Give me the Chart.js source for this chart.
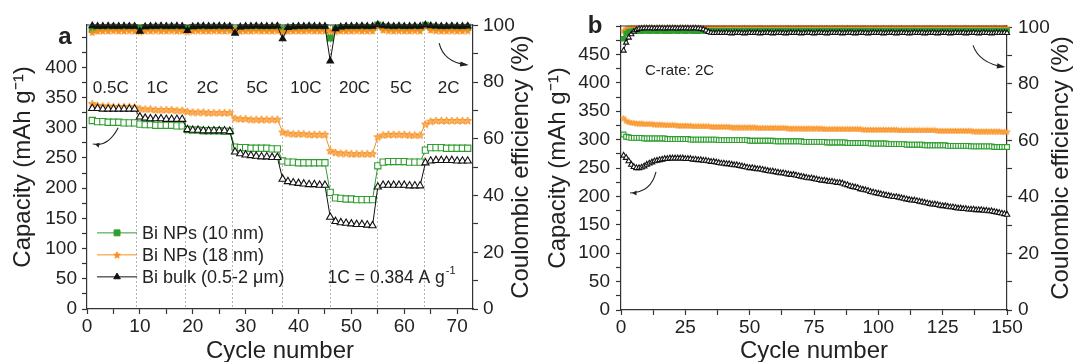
<!DOCTYPE html>
<html lang="en">
<head>
<meta charset="UTF-8">
<title>Bi anodes: rate capability and cycling at 2C</title>
<style>
  body { margin: 0; background: #fff; }
  #wrap { position: relative; width: 1075px; height: 362px; }
  canvas { position: absolute; top: 0; }
  #rateChart { left: 0; }
  #cycleChart { left: 537px; }
</style>
</head>
<body>
<div id="wrap">
  <canvas id="rateChart" width="537" height="362"></canvas>
  <canvas id="cycleChart" width="538" height="362"></canvas>
</div>

<script src="https://cdn.jsdelivr.net/npm/chart.js"></script>
<script>
// ---------- data, panel a (rate test, 9 cycles per rate) ----------
const seriesNames = ['Bi NPs (10 nm)', 'Bi NPs (18 nm)', 'Bi bulk (0.5-2 μm)'];
const rateNames = ['0.5C', '1C', '2C', '5C', '10C', '20C', '5C', '2C'];
const rateLabelCycles = [4.5, 13.3, 22.8, 32.2, 41.4, 50.6, 59.4, 68.4];
const rateBreaks = [9.2, 18.6, 27.5, 36.8, 45.9, 54.9, 63.8];

const capA_10nm = [
  312, 310, 310, 309, 309, 309, 308, 308, 308,
  306, 305, 305, 304, 304, 304, 304, 303, 303,
  297, 296, 296, 295, 295, 295, 295, 294, 294,
  268, 267, 267, 266, 266, 266, 266, 265, 265,
  245, 243, 243, 242, 242, 242, 242, 242, 242,
  193, 184, 183, 182, 182, 181, 181, 181, 181,
  237, 243, 244, 244, 244, 244, 243, 243, 243,
  263, 267, 267, 267, 266, 266, 266, 266, 266];
const capA_18nm = [
  340, 337, 336, 336, 335, 335, 335, 335, 334,
  332, 331, 331, 330, 330, 330, 330, 329, 329,
  327, 326, 326, 326, 325, 325, 325, 325, 325,
  316, 315, 315, 314, 314, 314, 314, 314, 314,
  293, 291, 290, 290, 290, 289, 289, 289, 289,
  262, 259, 258, 258, 257, 257, 257, 257, 257,
  285, 288, 289, 289, 289, 289, 288, 288, 288,
  306, 311, 312, 312, 312, 312, 312, 312, 312];
const capA_bulk = [
  332, 332, 331, 331, 331, 331, 331, 331, 331,
  318, 316, 315, 315, 315, 314, 314, 314, 314,
  297, 296, 296, 295, 295, 295, 295, 295, 294,
  260, 257, 255, 254, 253, 252, 252, 251, 251,
  215, 211, 209, 208, 207, 206, 206, 205, 205,
  152, 145, 143, 142, 141, 140, 140, 139, 138,
  202, 205, 205, 205, 205, 205, 204, 204, 204,
  242, 245, 246, 246, 246, 246, 245, 245, 245];

const ceA_10nm = [
  98.6, 99.2, 99.3, 99.3, 99.4, 99.3, 99.3, 99.4, 99.3,
  99.0, 99.3, 99.3, 99.4, 99.3, 99.3, 99.4, 99.3, 99.3,
  99.0, 99.3, 99.4, 99.3, 99.3, 99.4, 99.3, 99.3, 99.4,
  98.4, 99.2, 99.3, 99.3, 99.4, 99.3, 99.3, 99.3, 99.4,
  98.5, 99.1, 99.3, 99.3, 99.3, 99.4, 99.3, 99.3, 99.3,
  95.6, 98.8, 99.2, 99.3, 99.3, 99.3, 99.4, 99.3, 99.3,
  100.2, 99.5, 99.4, 99.3, 99.4, 99.3, 99.3, 99.4, 99.3,
  100.1, 99.5, 99.4, 99.3, 99.3, 99.4, 99.3, 99.3, 99.4];
const ceA_18nm = [
  97.6, 98.0, 98.1, 98.1, 98.2, 98.1, 98.1, 98.2, 98.1,
  97.9, 98.1, 98.1, 98.2, 98.1, 98.1, 98.2, 98.1, 98.1,
  97.9, 98.1, 98.2, 98.1, 98.1, 98.2, 98.1, 98.1, 98.2,
  98.6, 98.0, 98.1, 98.1, 98.2, 98.1, 98.1, 98.1, 98.2,
  97.8, 98.0, 98.1, 98.1, 98.1, 98.2, 98.1, 98.1, 98.1,
  98.2, 97.9, 98.1, 98.1, 98.1, 98.2, 98.1, 98.1, 98.1,
  99.8, 98.4, 98.2, 98.1, 98.2, 98.1, 98.1, 98.2, 98.1,
  99.7, 98.4, 98.2, 98.1, 98.1, 98.2, 98.1, 98.1, 98.2];
const ceA_bulk = [
  99.9, 99.7, 99.7, 99.8, 99.7, 99.7, 99.8, 99.7, 99.7,
  98.0, 99.6, 99.7, 99.7, 99.8, 99.7, 99.7, 99.8, 99.7,
  98.2, 99.6, 99.7, 99.8, 99.7, 99.7, 99.8, 99.7, 99.7,
  97.3, 99.5, 99.7, 99.7, 99.8, 99.7, 99.7, 99.7, 99.8,
  95.3, 99.3, 99.6, 99.7, 99.7, 99.8, 99.7, 99.7, 99.7,
  87.5, 98.9, 99.5, 99.7, 99.7, 99.7, 99.8, 99.7, 99.7,
  100.3, 99.9, 99.8, 99.7, 99.8, 99.7, 99.7, 99.8, 99.7,
  100.2, 99.9, 99.8, 99.7, 99.7, 99.8, 99.7, 99.7, 99.8];

// ---------- data, panel b (150 cycles at 2C) ----------
const capB_10nm = [
  309, 305, 304, 303, 303, 303, 303, 303, 302, 302,
  302, 302, 302, 302, 302, 302, 302, 301, 301, 301,
  301, 301, 301, 301, 301, 301, 300, 300, 300, 300,
  300, 300, 300, 300, 300, 300, 300, 299, 299, 299,
  299, 299, 299, 299, 299, 299, 299, 299, 299, 298,
  298, 298, 298, 298, 298, 298, 298, 298, 298, 297,
  297, 297, 297, 297, 297, 297, 297, 297, 297, 297,
  296, 296, 296, 296, 296, 296, 296, 296, 296, 295,
  295, 295, 295, 295, 295, 295, 295, 294, 294, 294,
  294, 294, 294, 294, 294, 294, 293, 293, 293, 293,
  293, 293, 293, 292, 292, 292, 292, 292, 292, 292,
  291, 291, 291, 291, 291, 291, 291, 290, 290, 290,
  290, 290, 290, 290, 290, 290, 289, 289, 289, 289,
  289, 289, 289, 289, 289, 288, 288, 288, 288, 288,
  288, 288, 288, 288, 287, 287, 287, 287, 287, 287];
const capB_18nm = [
  338, 333, 331, 330, 330, 329, 329, 329, 328, 328,
  328, 328, 327, 327, 327, 327, 326, 326, 326, 326,
  326, 325, 325, 325, 325, 325, 325, 324, 324, 324,
  324, 324, 324, 324, 323, 323, 323, 323, 323, 323,
  323, 323, 322, 322, 322, 322, 322, 322, 322, 322,
  322, 322, 321, 321, 321, 321, 321, 321, 321, 321,
  321, 321, 321, 321, 320, 320, 320, 320, 320, 320,
  320, 320, 320, 320, 320, 320, 320, 320, 319, 319,
  319, 319, 319, 319, 319, 319, 319, 319, 319, 319,
  319, 319, 319, 318, 318, 318, 318, 318, 318, 318,
  318, 318, 318, 318, 318, 318, 318, 317, 317, 317,
  317, 317, 317, 317, 317, 317, 317, 317, 317, 317,
  317, 317, 316, 316, 316, 316, 316, 316, 316, 316,
  316, 316, 316, 316, 316, 316, 315, 315, 315, 315,
  315, 315, 315, 315, 315, 315, 315, 314, 314, 314];
const capB_bulk = [
  272, 268, 262, 256, 252, 250, 250, 251, 253, 256,
  258, 260, 262, 263, 264, 265, 266, 266, 267, 267,
  267, 267, 267, 267, 266, 266, 266, 265, 265, 264,
  264, 263, 263, 262, 261, 261, 260, 259, 258, 258,
  257, 257, 256, 255, 255, 254, 253, 252, 251, 250,
  250, 249, 248, 248, 247, 246, 245, 244, 244, 243,
  242, 241, 241, 240, 239, 238, 238, 237, 236, 235,
  234, 233, 232, 232, 231, 230, 229, 228, 228, 227,
  226, 226, 225, 224, 224, 223, 221, 220, 218, 217,
  216, 215, 213, 212, 211, 210, 208, 207, 206, 205,
  204, 203, 202, 201, 200, 199, 199, 198, 197, 196,
  195, 194, 193, 193, 192, 191, 190, 189, 188, 187,
  186, 186, 185, 184, 183, 183, 182, 181, 181, 180,
  179, 179, 178, 178, 177, 177, 177, 176, 176, 176,
  175, 175, 174, 174, 173, 172, 171, 170, 169, 168];

const ceB_10nm = [
  96.0, 97.8, 98.4, 98.6, 98.7, 98.7, 98.8, 98.7, 98.8, 98.8,
  98.7, 98.8, 98.8, 98.7, 98.8, 98.8, 98.7, 98.8, 98.7, 98.8,
  98.8, 98.7, 98.8, 98.8, 98.7, 98.8, 98.8, 98.7, 98.8, 98.7,
  98.8, 98.8, 98.7, 98.8, 98.8, 98.7, 98.8, 98.7, 98.8, 98.8,
  98.7, 98.8, 98.8, 98.7, 98.8, 98.8, 98.7, 98.8, 98.7, 98.8,
  98.8, 98.7, 98.8, 98.8, 98.7, 98.8, 98.8, 98.7, 98.8, 98.7,
  98.8, 98.8, 98.7, 98.8, 98.8, 98.7, 98.8, 98.7, 98.8, 98.8,
  98.7, 98.8, 98.8, 98.7, 98.8, 98.8, 98.7, 98.8, 98.7, 98.8,
  98.8, 98.7, 98.8, 98.8, 98.7, 98.8, 98.8, 98.7, 98.8, 98.7,
  98.8, 98.8, 98.7, 98.8, 98.8, 98.7, 98.8, 98.7, 98.8, 98.8,
  98.7, 98.8, 98.8, 98.7, 98.8, 98.8, 98.7, 98.8, 98.7, 98.8,
  98.8, 98.7, 98.8, 98.8, 98.7, 98.8, 98.8, 98.7, 98.8, 98.7,
  98.8, 98.8, 98.7, 98.8, 98.8, 98.7, 98.8, 98.7, 98.8, 98.8,
  98.7, 98.8, 98.8, 98.7, 98.8, 98.8, 98.7, 98.8, 98.7, 98.8,
  98.8, 98.7, 98.8, 98.8, 98.7, 98.8, 98.8, 98.7, 98.8, 98.8];
const ceB_18nm = [
  98.8, 99.6, 99.8, 99.9, 99.9, 99.9, 100.0, 99.9, 99.9, 99.9,
  99.9, 100.0, 99.9, 99.9, 99.9, 99.9, 99.9, 100.0, 99.9, 99.9,
  99.9, 99.9, 100.0, 99.9, 99.9, 99.9, 99.9, 99.9, 100.0, 99.9,
  99.9, 99.9, 99.9, 100.0, 99.9, 99.9, 99.9, 99.9, 99.9, 100.0,
  99.9, 99.9, 100.0, 99.9, 99.9, 99.9, 99.9, 100.0, 99.9, 99.9,
  99.9, 99.9, 99.9, 100.0, 99.9, 99.9, 99.9, 99.9, 100.0, 99.9,
  99.9, 99.9, 99.9, 99.9, 100.0, 99.9, 99.9, 99.9, 100.0, 99.9,
  99.9, 99.9, 99.9, 100.0, 99.9, 99.9, 99.9, 99.9, 99.9, 100.0,
  99.9, 99.9, 100.0, 99.9, 99.9, 99.9, 99.9, 100.0, 99.9, 99.9,
  99.9, 99.9, 99.9, 100.0, 99.9, 99.9, 99.9, 99.9, 100.0, 99.9,
  99.9, 99.9, 99.9, 99.9, 100.0, 99.9, 99.9, 99.9, 100.0, 99.9,
  99.9, 99.9, 99.9, 100.0, 99.9, 99.9, 99.9, 99.9, 99.9, 100.0,
  99.9, 99.9, 100.0, 99.9, 99.9, 99.9, 99.9, 100.0, 99.9, 99.9,
  99.9, 99.9, 99.9, 100.0, 99.9, 99.9, 99.9, 99.9, 100.0, 99.9,
  99.9, 99.9, 99.9, 99.9, 100.0, 99.9, 99.9, 99.9, 100.0, 99.9];
const ceB_bulk = [
  91.8, 94.6, 96.4, 97.6, 98.5, 99.1, 99.5, 99.6, 99.7, 99.7,
  99.7, 99.7, 99.6, 99.7, 99.7, 99.7, 99.6, 99.7, 99.7, 99.7,
  99.7, 99.6, 99.7, 99.7, 99.7, 99.7, 99.6, 99.7, 99.7, 99.6,
  99.5, 99.3, 98.9, 98.4, 98.1, 98.0, 98.0, 98.1, 98.0, 98.0,
  98.1, 98.0, 97.9, 98.0, 98.1, 98.0, 98.0, 97.9, 98.0, 98.1,
  98.0, 98.0, 98.1, 97.9, 98.0, 98.0, 98.1, 98.0, 97.9, 98.0,
  98.1, 98.0, 98.0, 97.9, 98.0, 98.1, 98.0, 98.0, 98.1, 97.9,
  98.0, 98.0, 98.1, 98.0, 97.9, 98.0, 98.1, 98.0, 98.0, 97.9,
  98.0, 98.1, 98.0, 98.0, 98.1, 97.9, 98.0, 98.0, 98.1, 98.0,
  97.9, 98.0, 98.1, 98.0, 98.0, 97.9, 98.0, 98.1, 98.0, 98.0,
  98.1, 97.9, 98.0, 98.0, 98.1, 98.0, 97.9, 98.0, 98.1, 98.0,
  98.0, 97.9, 98.0, 98.1, 98.0, 98.0, 98.1, 97.9, 98.0, 98.0,
  98.1, 98.0, 97.9, 98.0, 98.1, 98.0, 98.0, 97.9, 98.0, 98.1,
  98.0, 98.0, 98.1, 97.9, 98.0, 98.0, 98.1, 98.0, 97.9, 98.0,
  98.1, 98.0, 98.0, 97.9, 98.0, 98.1, 98.0, 98.0, 98.1, 98.0];

const cyclesA = capA_10nm.map((_, i) => i + 1);
const cyclesB = capB_10nm.map((_, i) => i + 1);

// ---------- styles ----------
const FONT = "'Liberation Sans', Arial, sans-serif";
const INK = '#222';
const AXIS = '#333';
const GREEN = '#2f9e2f';
const ORANGE = '#f7901e';
const BLACK = '#111';

Chart.defaults.font.family = FONT;
Chart.defaults.color = INK;

function starImage(size, fill, stroke) {
  const c = document.createElement('canvas');
  c.width = size; c.height = size;
  const g = c.getContext('2d');
  const cx = size / 2, cy = size / 2 + 0.4, R = size / 2 - 0.5, r = R * 0.45;
  g.beginPath();
  for (let i = 0; i < 10; i++) {
    const ang = -Math.PI / 2 + i * Math.PI / 5;
    const rr = i % 2 ? r : R;
    g.lineTo(cx + rr * Math.cos(ang), cy + rr * Math.sin(ang));
  }
  g.closePath();
  g.fillStyle = fill; g.fill();
  g.strokeStyle = stroke; g.lineWidth = 0.9; g.stroke();
  return c;
}

function series(xs, ys, axis, color, style, radius, fill) {
  return {
    data: ys.map((v, i) => ({ x: xs[i], y: v })),
    yAxisID: axis,
    borderColor: color,
    borderWidth: 1,
    pointStyle: style,
    pointRadius: radius,
    pointBorderColor: color,
    pointBackgroundColor: fill,
    pointBorderWidth: 1.1,
    tension: 0,
    clip: 6
  };
}

// every `step` gets a tick mark, every `major` gets a label
function axis(opts) {
  const { min, max, step, major, position, width, height, pad, hideAbove } = opts;
  const cfg = {
    type: 'linear', min, max, position,
    border: { color: AXIS, width: 1.2 },
    grid: {
      drawOnChartArea: false, drawTicks: true, tickLength: 5, tickWidth: 1.2, tickColor: AXIS
    },
    ticks: {
      stepSize: step, includeBounds: false, autoSkip: false, maxRotation: 0, padding: pad,
      color: INK, font: { size: 19, family: FONT },
      callback: v => {
        if (hideAbove !== undefined && v > hideAbove) return '';
        return Math.abs(v / major - Math.round(v / major)) < 1e-6 ? v : '';
      }
    },
    afterFit: s => {
      if (width !== undefined) s.width = width;
      if (height !== undefined) s.height = height;
    }
  };
  if (opts.title) {
    cfg.title = { display: true, text: opts.title, color: INK, font: { size: 24, family: FONT }, padding: opts.titlePad };
  }
  return cfg;
}

// ---------- decorations (rate bands, notes, arrows, legend) ----------
function arrow(ctx, pts) {
  const [x1, y1, cx, cy, x2, y2] = pts;
  ctx.beginPath();
  ctx.moveTo(x1, y1);
  ctx.quadraticCurveTo(cx, cy, x2, y2);
  ctx.stroke();
  const ang = Math.atan2(y2 - cy, x2 - cx);
  ctx.beginPath();
  ctx.moveTo(x2 + 2, y2);
  ctx.lineTo(x2 - 7 * Math.cos(ang - 0.38), y2 - 7 * Math.sin(ang - 0.38));
  ctx.lineTo(x2 - 7 * Math.cos(ang + 0.38), y2 - 7 * Math.sin(ang + 0.38));
  ctx.closePath();
  ctx.fill();
}

const extras = {
  id: 'extras',
  beforeDatasetsDraw(chart, args, o) {
    const { ctx, chartArea: a, scales } = chart;
    if (!o.breaks) return;
    ctx.save();
    ctx.strokeStyle = '#b4b4b4';
    ctx.lineWidth = 1;
    ctx.setLineDash([2, 2]);
    o.breaks.forEach(b => {
      const px = Math.round(scales.x.getPixelForValue(b)) + 0.5;
      ctx.beginPath(); ctx.moveTo(px, a.top); ctx.lineTo(px, a.bottom); ctx.stroke();
    });
    ctx.restore();
  },
  afterDraw(chart, args, o) {
    const { ctx, chartArea: a, scales: { x, y } } = chart;
    ctx.save();
    // top frame
    ctx.strokeStyle = AXIS; ctx.lineWidth = 1.2;
    ctx.beginPath(); ctx.moveTo(a.left, a.top); ctx.lineTo(a.right, a.top); ctx.stroke();

    // right axis title, read bottom to top like the left one
    ctx.fillStyle = INK;
    ctx.font = '24px ' + FONT;
    ctx.textAlign = 'center'; ctx.textBaseline = 'middle';
    ctx.save();
    ctx.translate(chart.width - o.rightTitleInset, (a.top + a.bottom) / 2);
    ctx.rotate(-Math.PI / 2);
    ctx.fillText('Coulombic efficiency (%)', 0, 0);
    ctx.restore();

    // panel letter
    ctx.font = 'bold 24px ' + FONT;
    ctx.fillText(o.panel, a.left - o.panelInset, y.getPixelForValue(o.panelAt));

    // rate labels
    if (o.rateNames) {
      ctx.font = '17px ' + FONT;
      o.rateNames.forEach((t, i) => ctx.fillText(t, x.getPixelForValue(o.rateAt[i]), y.getPixelForValue(o.rateY)));
    }

    // free notes
    (o.notes || []).forEach(n => {
      ctx.font = n.size + 'px ' + FONT;
      ctx.textAlign = 'left';
      const px = x.getPixelForValue(n.x), py = y.getPixelForValue(n.y);
      ctx.fillText(n.text, px, py);
      if (n.sup) {
        const w = ctx.measureText(n.text).width;
        ctx.font = Math.round(n.size * 0.62) + 'px ' + FONT;
        ctx.fillText(n.sup, px + w + 1, py - n.size * 0.42);
      }
    });

    // curved arrows pointing at the axis each group belongs to
    ctx.strokeStyle = '#222'; ctx.fillStyle = '#222'; ctx.lineWidth = 1.1;
    (o.arrows || []).forEach(p => arrow(ctx, [
      x.getPixelForValue(p[0]), y.getPixelForValue(p[1]),
      x.getPixelForValue(p[2]), y.getPixelForValue(p[3]),
      x.getPixelForValue(p[4]), y.getPixelForValue(p[5])]));

    // legend
    if (o.legend) {
      const L = o.legend;
      const x0 = x.getPixelForValue(L.x);
      L.rows.forEach((row, i) => {
        const ds = chart.data.datasets[row.ds];
        const py = y.getPixelForValue(L.y) + i * 22;
        ctx.strokeStyle = ds.borderColor; ctx.lineWidth = 1;
        ctx.beginPath(); ctx.moveTo(x0, py); ctx.lineTo(x0 + 40, py); ctx.stroke();
        ctx.fillStyle = ds.pointBackgroundColor; ctx.strokeStyle = ds.pointBorderColor;
        Chart.helpers.drawPoint(ctx, { pointStyle: ds.pointStyle, radius: ds.pointRadius, rotation: 0, borderWidth: 1 }, x0 + 20, py);
        ctx.fillStyle = INK;
        ctx.font = '18px ' + FONT;
        ctx.textAlign = 'left';
        ctx.fillText(seriesNames[row.name], x0 + 45, py + 1);
      });
    }
    ctx.restore();
  }
};

// ---------- panel a ----------
const starOpenA = starImage(9, '#fbb060', ORANGE);
const starFillA = starImage(8, ORANGE, ORANGE);

new Chart(document.getElementById('rateChart'), {
  type: 'line',
  data: {
    datasets: [
      series(cyclesA, ceA_bulk, 'ce', BLACK, 'triangle', 3.8, BLACK),
      series(cyclesA, ceA_18nm, 'ce', ORANGE, starFillA, 3.5, ORANGE),
      series(cyclesA, ceA_10nm, 'ce', GREEN, 'rect', 4.2, GREEN),
      series(cyclesA, capA_bulk, 'y', BLACK, 'triangle', 4.2, '#fff'),
      series(cyclesA, capA_18nm, 'y', ORANGE, starOpenA, 3.5, ORANGE),
      series(cyclesA, capA_10nm, 'y', GREEN, 'rect', 4.4, '#fff')
    ]
  },
  options: {
    responsive: false, animation: false, devicePixelRatio: 1,
    layout: { padding: { top: 25, left: 0, right: 0, bottom: 0 } },
    plugins: {
      legend: { display: false }, tooltip: { enabled: false },
      extras: {
        panel: 'a', panelAt: 450, panelInset: 22, rightTitleInset: 16,
        breaks: rateBreaks, rateNames: rateNames, rateAt: rateLabelCycles, rateY: 366,
        notes: [{ text: '1C = 0.384 A g', sup: '-1', x: 45.5, y: 51, size: 17.5 }],
        arrows: [[5.9, 300, 4.0, 268, 1.1, 273], [66.6, 440, 67.4, 409, 71.8, 404]],
        legend: { x: 1.9, y: 126, rows: [{ ds: 2, name: 0 }, { ds: 1, name: 1 }, { ds: 0, name: 2 }] }
      }
    },
    scales: {
      x: axis({ min: 0, max: 73, step: 5, major: 10, position: 'bottom', height: 53, pad: 1,
                title: 'Cycle number', titlePad: { top: 0, bottom: -4 } }),
      y: axis({ min: 0, max: 470, step: 25, major: 50, position: 'left', width: 87, pad: 5, hideAbove: 400,
                title: 'Capacity (mAh g⁻¹)', titlePad: { top: 9, bottom: 0 } }),
      ce: axis({ min: 0, max: 100.2, step: 10, major: 20, position: 'right', width: 64, pad: 5 })
    }
  },
  plugins: [extras]
});

// ---------- panel b ----------
const starOpenB = starImage(7, '#fbb060', ORANGE);
const starFillB = starImage(7, ORANGE, ORANGE);

new Chart(document.getElementById('cycleChart'), {
  type: 'line',
  data: {
    datasets: [
      series(cyclesB, ceB_bulk, 'ce', BLACK, 'triangle', 3, '#fff'),
      series(cyclesB, ceB_10nm, 'ce', GREEN, 'rect', 3.2, GREEN),
      series(cyclesB, ceB_18nm, 'ce', ORANGE, starFillB, 3, ORANGE),
      series(cyclesB, capB_bulk, 'y', BLACK, 'triangle', 3.2, '#fff'),
      series(cyclesB, capB_18nm, 'y', ORANGE, starOpenB, 3, ORANGE),
      series(cyclesB, capB_10nm, 'y', GREEN, 'rect', 3.4, '#fff')
    ]
  },
  options: {
    responsive: false, animation: false, devicePixelRatio: 1,
    layout: { padding: { top: 26, left: 0, right: 0, bottom: 0 } },
    plugins: {
      legend: { display: false }, tooltip: { enabled: false },
      extras: {
        panel: 'b', panelAt: 500, panelInset: 26, rightTitleInset: 14,
        notes: [{ text: 'C-rate: 2C', x: 9.3, y: 421, size: 15 }],
        arrows: [[13.6, 243, 11.6, 206, 3.5, 206], [136.8, 466, 139.2, 435, 148.6, 428]]
      }
    },
    scales: {
      x: axis({ min: 0, max: 150, step: 12.5, major: 25, position: 'bottom', height: 52, pad: 1,
                title: 'Cycle number', titlePad: { top: 0, bottom: -4 } }),
      y: axis({ min: 0, max: 500, step: 25, major: 50, position: 'left', width: 84, pad: 6, hideAbove: 450,
                title: 'Capacity (mAh g⁻¹)', titlePad: { top: 7, bottom: 0 } }),
      ce: axis({ min: 0, max: 100.5, step: 10, major: 20, position: 'right', width: 68, pad: 6 })
    }
  },
  plugins: [extras]
});
</script>
</body>
</html>
